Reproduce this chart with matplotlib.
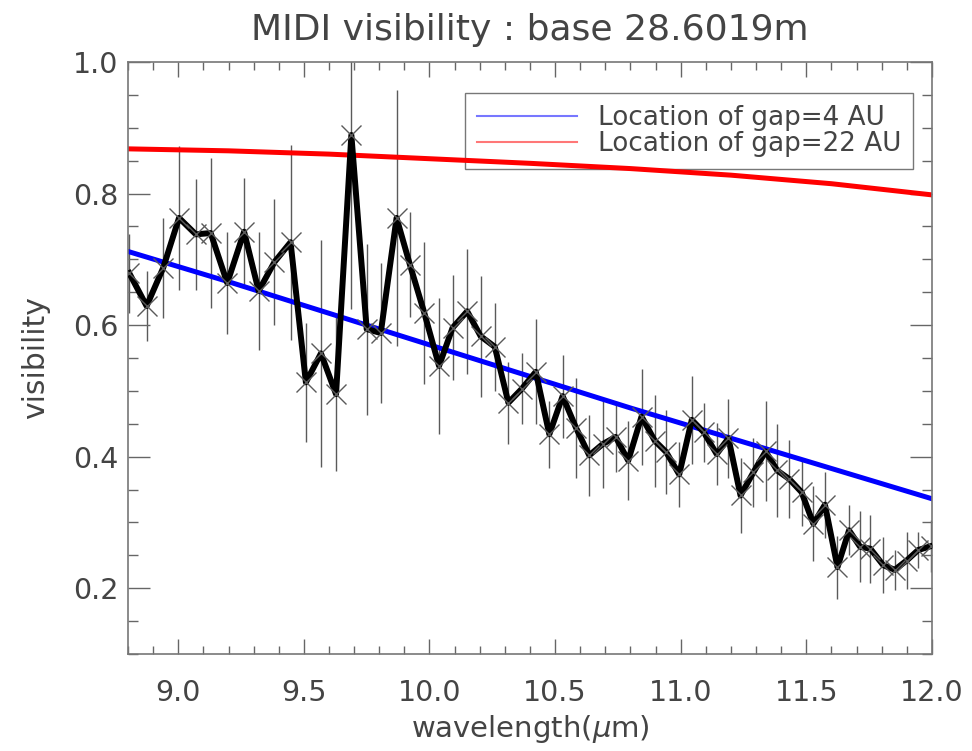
import numpy as np
import matplotlib.pyplot as plt
from matplotlib.ticker import MultipleLocator

# MIDI visibility measurements
wave = [8.805, 8.874, 8.94, 9.003, 9.07, 9.129, 9.195, 9.262, 9.32, 9.383,
        9.447, 9.508, 9.568, 9.628, 9.689, 9.75, 9.806, 9.869, 9.922, 9.979,
        10.038, 10.092, 10.15, 10.204, 10.26, 10.314, 10.367, 10.423, 10.477, 10.53,
        10.583, 10.636, 10.689, 10.741, 10.791, 10.844, 10.897, 10.942, 10.994, 11.044,
        11.092, 11.143, 11.19, 11.238, 11.289, 11.338, 11.384, 11.432, 11.481, 11.528,
        11.574, 11.624, 11.67, 11.714, 11.755, 11.806, 11.852, 11.899, 11.945, 11.996]
vis = [0.679, 0.629, 0.687, 0.763, 0.738, 0.74, 0.664, 0.742, 0.652, 0.696,
       0.726, 0.513, 0.557, 0.495, 0.889, 0.594, 0.588, 0.763, 0.692, 0.619,
       0.538, 0.596, 0.621, 0.583, 0.567, 0.482, 0.503, 0.529, 0.434, 0.492,
       0.444, 0.402, 0.419, 0.43, 0.394, 0.461, 0.424, 0.407, 0.373, 0.456,
       0.437, 0.404, 0.428, 0.341, 0.376, 0.408, 0.379, 0.366, 0.346, 0.298,
       0.327, 0.232, 0.288, 0.263, 0.26, 0.235, 0.228, 0.242, 0.258, 0.264]
err = [0.06, 0.053, 0.076, 0.11, 0.084, 0.114, 0.078, 0.081, 0.09, 0.096,
       0.148, 0.09, 0.173, 0.117, 0.265, 0.13, 0.107, 0.195, 0.08, 0.108,
       0.103, 0.08, 0.095, 0.092, 0.067, 0.062, 0.054, 0.08, 0.051, 0.063,
       0.076, 0.062, 0.066, 0.053, 0.06, 0.073, 0.07, 0.064, 0.05, 0.067,
       0.045, 0.047, 0.06, 0.057, 0.053, 0.076, 0.07, 0.06, 0.052, 0.057,
       0.05, 0.048, 0.038, 0.054, 0.052, 0.043, 0.03, 0.043, 0.028, 0.04]

# model curves
model_wave = [8.8, 9.2, 9.6, 10.0, 10.4, 10.8, 11.2, 11.6, 12.0]
gap4 = [0.712, 0.666, 0.618, 0.570, 0.522, 0.474, 0.428, 0.382, 0.336]
gap22 = [0.868, 0.865, 0.860, 0.853, 0.846, 0.838, 0.828, 0.815, 0.798]

txt = '#444444'
plt.rcParams['font.family'] = 'DejaVu Sans'

fig = plt.figure(figsize=(9.72, 7.51), dpi=100)
ax = fig.add_axes([0.1317, 0.1292, 0.8271, 0.7882])

ax.errorbar(wave, vis, yerr=err, fmt='none', ecolor='#5a5a5a', elinewidth=1.0, zorder=1)
ax.plot(model_wave, gap4, color='#0000ff', lw=3.6, zorder=2)
ax.plot(model_wave, gap22, color='#ff0000', lw=3.6, zorder=2)
ax.plot(wave, vis, color='black', lw=4.3, zorder=3)
ax.plot(wave, vis, 'x', color='#5a5a5a', ms=14, mew=1.0, zorder=4)

# legend drawn with thin light lines like the original
h1, = ax.plot([], [], color='#7777ff', lw=1.5)
h2, = ax.plot([], [], color='#ff7777', lw=1.5)
leg = ax.legend([h1, h2], ['Location of gap=4 AU', 'Location of gap=22 AU'],
                loc='upper right', bbox_to_anchor=(0.9764, 0.9476), borderaxespad=0,
                fontsize=18.9, frameon=True, fancybox=False, handlelength=3.8,
                handletextpad=0.8, borderpad=0.45, labelspacing=0.02, labelcolor=txt,
                framealpha=1.0)
leg.get_frame().set_edgecolor('#777777')
leg.get_frame().set_linewidth(1.0)
leg.set_zorder(1.5)

ax.set_xlim(8.8, 12.0)
ax.set_ylim(0.1, 1.0)
ax.xaxis.set_major_locator(MultipleLocator(0.5))
ax.xaxis.set_minor_locator(MultipleLocator(0.1))
ax.yaxis.set_major_locator(MultipleLocator(0.2))
ax.yaxis.set_minor_locator(MultipleLocator(0.05))
ax.set_yticks([0.2, 0.4, 0.6, 0.8, 1.0])
ax.set_yticklabels(['0.2', '0.4', '0.6', '0.8', '1.0'])
ax.set_xticks([9.0, 9.5, 10.0, 10.5, 11.0, 11.5, 12.0])
ax.set_xticklabels(['9.0', '9.5', '10.0', '10.5', '11.0', '11.5', '12.0'])

ax.tick_params(which='both', direction='in', top=True, right=True, colors='#666666',
               labelcolor=txt, labelsize=20.5)
ax.tick_params(axis='x', which='major', length=11, width=1, pad=18)
ax.tick_params(axis='x', which='minor', length=5.5, width=1)
ax.tick_params(axis='y', which='major', length=16, width=1, pad=7)
ax.tick_params(axis='y', which='minor', length=7, width=1)
for s in ax.spines.values():
    s.set_color('#777777')
    s.set_linewidth(1.2)

ax.set_xlabel(r'wavelength($\mu$m)', fontsize=21, color=txt, labelpad=4)
ax.set_ylabel('visibility', fontsize=21.5, color=txt, labelpad=16)
ax.set_title('MIDI visibility : base 28.6019m', fontsize=26, color=txt, pad=16)

plt.savefig('out.png', dpi=100)
